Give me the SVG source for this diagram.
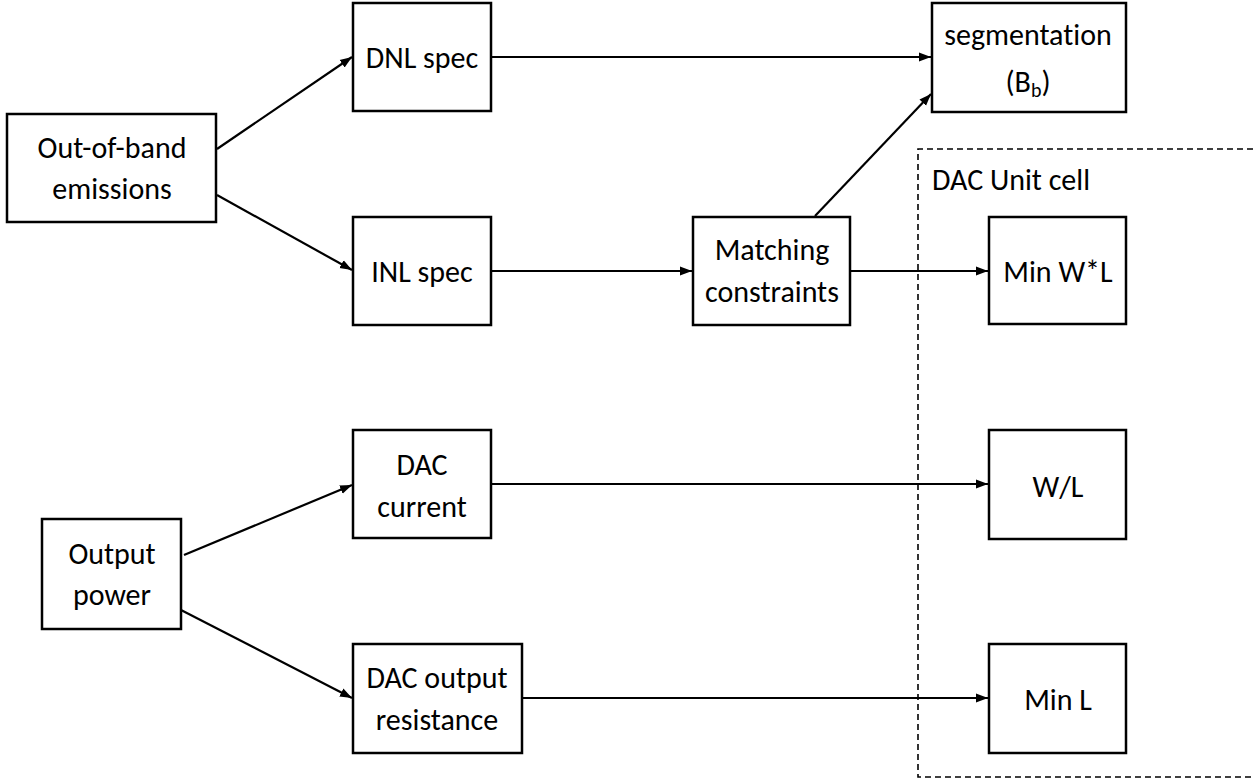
<svg xmlns="http://www.w3.org/2000/svg" width="1253" height="783" viewBox="0 0 1253 783">
<style>
.box{fill:#fff;stroke:#000;stroke-width:2.5}
.t{font-family:Carlito,Lato,"Liberation Sans",sans-serif;font-size:30px;fill:#000;text-anchor:middle;font-variant-ligatures:none}
.c{stroke:#000;stroke-width:2.2;fill:none;marker-end:url(#ah)}
.dash{stroke:#000;stroke-width:1.6;fill:none;stroke-dasharray:6 4}
</style>
<defs>
<marker id="ah" markerUnits="userSpaceOnUse" markerWidth="14" markerHeight="12" refX="12" refY="6" orient="auto">
<path d="M0,1.5 L12,6 L0,10.5 Z" fill="#000"/>
</marker>
</defs>
<rect width="1253" height="783" fill="#fff"/>
<g id="unit-cell-frame">
<path class="dash" d="M1253,149 H918 V777 H1253"/>
<text class="t" x="932" y="190" style="text-anchor:start">DAC Unit cell</text>
</g>
<g id="connectors">
<line class="c" x1="217" y1="149" x2="352" y2="57"/>
<line class="c" x1="217" y1="195" x2="352" y2="270"/>
<line class="c" x1="491" y1="57" x2="931" y2="57"/>
<line class="c" x1="491" y1="271" x2="692" y2="271"/>
<line class="c" x1="815" y1="216" x2="931" y2="94"/>
<line class="c" x1="850" y1="271" x2="988" y2="271"/>
<line class="c" x1="184" y1="555" x2="352" y2="485"/>
<line class="c" x1="181" y1="610" x2="352" y2="698"/>
<line class="c" x1="491" y1="484" x2="988" y2="484"/>
<line class="c" x1="522" y1="698" x2="988" y2="698"/>
</g>
<g id="out-of-band">
<rect class="box" x="7" y="114" width="209" height="108"/>
<text class="t" x="112" y="158">Out-of-band</text>
<text class="t" x="112" y="199">emissions</text>
</g>
<g id="dnl-spec">
<rect class="box" x="353" y="3" width="138" height="108"/>
<text class="t" x="422" y="68">DNL spec</text>
</g>
<g id="inl-spec">
<rect class="box" x="353" y="217" width="138" height="108"/>
<text class="t" x="422" y="282">INL spec</text>
</g>
<g id="segmentation">
<rect class="box" x="932" y="3" width="194" height="109"/>
<text class="t" x="1028" y="45">segmentation</text>
<text class="t" x="1028" y="92">(B<tspan font-size="20" dy="5">b</tspan><tspan dy="-5">)</tspan></text>
</g>
<g id="matching">
<rect class="box" x="693" y="217" width="157" height="108"/>
<text class="t" x="772" y="260">Matching</text>
<text class="t" x="772" y="302">constraints</text>
</g>
<g id="min-wl">
<rect class="box" x="989" y="217" width="137" height="107"/>
<text class="t" x="1058" y="282">Min W*L</text>
</g>
<g id="output-power">
<rect class="box" x="42" y="519" width="139" height="110"/>
<text class="t" x="112" y="564">Output</text>
<text class="t" x="112" y="605">power</text>
</g>
<g id="dac-current">
<rect class="box" x="353" y="430" width="138" height="108"/>
<text class="t" x="422" y="475">DAC</text>
<text class="t" x="422" y="517">current</text>
</g>
<g id="dac-output-resistance">
<rect class="box" x="353" y="644" width="169" height="109"/>
<text class="t" x="437" y="688">DAC output</text>
<text class="t" x="437" y="730">resistance</text>
</g>
<g id="wl">
<rect class="box" x="989" y="430" width="137" height="109"/>
<text class="t" x="1058" y="497">W/L</text>
</g>
<g id="min-l">
<rect class="box" x="989" y="644" width="137" height="109"/>
<text class="t" x="1058" y="710">Min L</text>
</g>
</svg>
